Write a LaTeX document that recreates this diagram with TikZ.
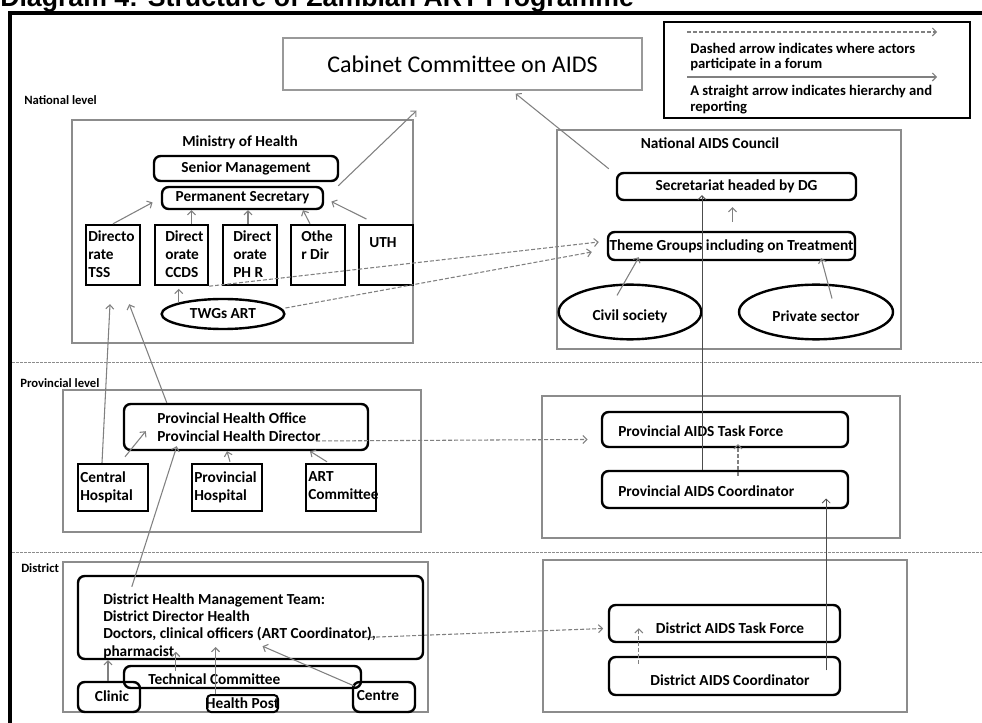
\documentclass[tikz,border=0pt]{standalone}
\usepackage{fontspec}
\setmainfont{Carlito}
\newfontfamily\titlefont{Liberation Sans}
\usetikzlibrary{fit,calc,arrows.meta,shapes.geometric}
\begin{document}
\begin{tikzpicture}[x=0.75pt,y=-0.75pt,
  rbox/.style={draw, line width=1.8pt, rounded corners=5pt, inner sep=0pt},
  sbox/.style={draw, line width=1.8pt, inner sep=0pt},
  gbox/.style={draw=black!45, line width=0.8pt, inner sep=0pt},
  ellbox/.style={draw, ellipse, line width=1.8pt, inner sep=0pt},
  lbl/.style={font=\bfseries\fontsize{11.5}{13.5}\selectfont, inner sep=0pt},
  small/.style={font=\bfseries\fontsize{9.5}{11}\selectfont, inner sep=0pt},
  harrow/.style={draw=black!50, line width=0.8pt, -{Straight Barb[length=3pt,width=6pt]}},
  darrow/.style={harrow, dash pattern=on 3pt off 1.5pt},
  vline/.style={draw=black!70, line width=0.6pt, -{Straight Barb[length=3pt,width=6pt]}},
  sep/.style={draw=black!45, line width=0.7pt, dash pattern=on 2pt off 1pt},
]
\useasboundingbox (0,0) rectangle (982,723);

% title (cut off at the top, as in the scan) and frame
\node[anchor=base west, font=\titlefont\bfseries\fontsize{20}{22}\selectfont, inner sep=0pt] (title) at (0,7) {Diagram 4: Structure of Zambian ART Programme};
\draw[line width=3pt] (10,740) -- (10,13) -- (995,13);

% Cabinet
\node[gbox, draw=black!40, line width=1pt, fit={(283,38) (642,90)}] (cab) {};
\node[font=\fontsize{18}{20}\selectfont, inner sep=0pt] (cab-t) at (cab) {Cabinet Committee on AIDS};

% Legend
\node[draw, line width=1.4pt, inner sep=0pt, fit={(664,22) (970,118)}] (leg) {};
\coordinate (lda) at (687,32); \coordinate (ldb) at (937,32);
\coordinate (lsa) at (687,77); \coordinate (lsb) at (937,77);
\draw[darrow] (lda) -- (ldb);
\draw[harrow] (lsa) -- (lsb);
\node[lbl, anchor=west, font=\bfseries\fontsize{11}{13}\selectfont] (leg1) at (690,48) {Dashed arrow indicates where actors};
\node[lbl, anchor=west, font=\bfseries\fontsize{11}{13}\selectfont] (leg2) at (690,65) {participate in a forum};
\node[lbl, anchor=west, font=\bfseries\fontsize{11}{13}\selectfont] (leg3) at (690,92) {A straight arrow indicates hierarchy and};
\node[lbl, anchor=west, font=\bfseries\fontsize{11}{13}\selectfont] (leg4) at (690,108) {reporting};

% National level
\node[small, anchor=west] (natl) at (24,100) {National level};
\node[gbox, fit={(72,120) (413,343)}] (moh) {};
\node[lbl] (moh-t) at (240,142) {Ministry of Health};
\node[rbox, fit={(154,156) (338,181)}] (sm) {};
\node[lbl] (sm-t) at (sm) {Senior Management};
\node[rbox, fit={(162,187) (323,209)}] (ps) {};
\node[lbl] (ps-t) at (ps) {Permanent Secretary};
\node[sbox, fit={(86,225) (140,285)}] (tss) {};
\node[sbox, fit={(155,225) (208,285)}] (ccds) {};
\node[sbox, fit={(223,225) (277,285)}] (phr) {};
\node[sbox, fit={(291,225) (345,285)}] (oth) {};
\node[sbox, fit={(359,225) (413,285)}] (uth) {};
\node[lbl, anchor=north west, align=left] (tss-t) at (88,230) {Directo\\rate\\TSS};
\node[lbl, anchor=north west, align=left] (ccds-t) at (165,230) {Direct\\orate\\CCDS};
\node[lbl, anchor=north west, align=left] (phr-t) at (233,230) {Direct\\orate\\PH R};
\node[lbl, anchor=north west, align=left] (oth-t) at (301,230) {Othe\\r Dir};
\node[lbl, anchor=north west, align=left] (uth-t) at (369,237) {UTH};
\node[ellbox, minimum width=92pt, minimum height=22.5pt] (twg) at (223,314) {};
\node[lbl] (twg-t) at (twg) {TWGs ART};

\coordinate (c1) at ($(ccds.north)+(10,0)$);
\coordinate (c2) at ($(phr.north)+(-2,0)$);
\coordinate (c3) at ($(oth.north)+(-8,0)$);
\coordinate (c3b) at ($(oth.north)+(-15,0)$);
\draw[harrow, shorten >=7pt] (tss.north) -- (ps.west);
\draw[harrow] (c1) -- (c1 |- ps.south);
\draw[harrow] (c2) -- (c2 |- ps.south);
\draw[harrow] (c3) -- (c3b |- ps.south);
\draw[harrow, shorten <=8pt, shorten >=6pt] ($(uth.north)+(-10,0)$) -- (ps.east);
\draw[harrow] ($(ps.north east)+(14,0)$) -- ($(cab.south)+(-46,20)$);
\draw[harrow, shorten >=2pt] (twg.north west) -- (twg.north west |- ccds.south);

% National AIDS Council
\node[gbox, fit={(557,130) (901,349)}] (nac) {};
\node[lbl] (nac-t) at (710,143) {National AIDS Council};
\node[rbox, fit={(617,173) (856,200)}] (sec) {};
\node[lbl] (sec-t) at (sec) {Secretariat headed by DG};
\node[rbox, fit={(608,232) (855,260)}] (thm) {};
\node[lbl] (thm-t) at (thm) {Theme Groups including on Treatment};
\node[ellbox, minimum width=107pt, minimum height=41pt] (civ) at (630,312) {};
\node[lbl] (civ-t) at (630,316) {Civil society};
\node[ellbox, minimum width=115.5pt, minimum height=41pt] (pri) at (816,312) {};
\node[lbl] (pri-t) at (816,316) {Private sector};

\draw[harrow] ($(thm.north)+(1,-9)$) -- ($(sec.south)+(-4,6)$);
\draw[harrow] ($(civ.north)+(-13,12)$) -- ($(thm.south west)+(32,-4)$);
\draw[harrow] ($(pri.north)+(16,15)$) -- ($(thm.south east)+(-35,-3)$);
\draw[harrow] ($(sec.north west)+(-7,-3)$) -- ($(cab.south east)+(-127,3)$);

\draw[darrow] (ccds.south east) -- ($(thm.west)+(-8,-4)$);
\draw[darrow] ($(twg.east)+(0,-6)$) -- ($(thm.west)+(-15,6)$);

% separators
\coordinate (s1a) at (12,362); \coordinate (s1b) at (982,362);
\coordinate (s2a) at (12,552); \coordinate (s2b) at (982,552);
\draw[sep] (s1a) -- (s1b);
\draw[sep] (s2a) -- (s2b);

% Provincial level
\node[small, anchor=west] (prov) at (20,383) {Provincial level};
\node[gbox, fit={(63,390) (421,532)}] (pbox) {};
\node[rbox, fit={(124,404) (368,450)}] (pho) {};
\node[lbl, anchor=north west, align=left] (pho-t) at (157,412) {Provincial Health Office\\Provincial Health Director};
\node[sbox, fit={(78,464) (148,511)}] (ch) {};
\node[sbox, fit={(192,464) (262,511)}] (ph) {};
\node[sbox, fit={(306,464) (376,511)}] (artc) {};
\node[lbl, anchor=north west, align=left] (ch-t) at (80,471) {Central\\Hospital};
\node[lbl, anchor=north west, align=left] (ph-t) at (194,471) {Provincial\\Hospital};
\node[lbl, anchor=north west, align=left] (artc-t) at (308,471) {ART\\Committee};

\coordinate (c4) at ($(ph.north)+(0,0)$);
\coordinate (c5) at ($(artc.north)+(-31,0)$);
\draw[harrow] ($(ch.north)+(12,-6)$) -- ($(pho.south west)+(23,-20)$);
\draw[harrow] ($(c4)+(3,-1)$) -- (c4 |- pho.south);
\draw[harrow] ($(artc.north)+(-14,-1)$) -- (c5 |- pho.south);
\draw[harrow] ($(ch.north)+(-11,0)$) -- ($(tss.south)+(-3,18)$);
\draw[harrow] ($(pho.north west)+(44,0)$) -- ($(tss.south east)+(-12,18)$);
\draw[darrow] ($(pho.east)+(-53,14)$) -- ($(pbox.north east)+(166,50)$);

% Provincial AIDS
\node[gbox, fit={(542,396) (900,538)}] (pabox) {};
\node[rbox, fit={(602,412) (848,447)}] (patf) {};
\node[lbl, anchor=west] (patf-t) at (618,431) {Provincial AIDS Task Force};
\node[rbox, fit={(602,471) (848,508)}] (pac) {};
\node[lbl, anchor=west] (pac-t) at (618,491) {Provincial AIDS Coordinator};
\coordinate (c6) at ($(pac.north)+(-23,0)$);
\draw[darrow] ($(pac.north)+(13,6)$) -- ($(patf.south)+(13,-4)$);
\draw[vline, shorten >=-4.5pt] (c6) -- (c6 |- sec.south);

% District
\node[small, anchor=west] (dist) at (21,568) {District};
\node[gbox, fill=white, fit={(63,562) (428,712)}] (dbox) {};
\node[rbox, fit={(78,576) (423,659)}] (dhmt) {};
\node[lbl, anchor=north west, align=left, font=\bfseries\fontsize{11.5}{13}\selectfont] (dhmt-t) at (103,593) {District Health Management Team:\\District Director Health\\Doctors, clinical officers (ART Coordinator),\\pharmacist};
\node[rbox, fit={(124,666) (361,688)}] (tech) {};
\node[lbl, anchor=west] (tech-t) at (148,679) {Technical Committee};
\node[rbox, fit={(78,682) (140,712)}] (cli) {};
\node[lbl] (cli-t) at (112,696) {Clinic};
\node[rbox, rounded corners=3pt, line width=1.5pt, fit={(207,695) (278,712)}] (hp) {};
\node[lbl] (hp-t) at (hp) {Health Post};
\node[rbox, fit={(353,682) (415,712)}] (cen) {};
\node[lbl] (cen-t) at (378,696) {Centre};

\coordinate (c7) at ($(cli.north)+(-1,0)$);
\draw[harrow] (c7) -- (c7 |- dhmt.south);
\draw[harrow] ($(tech.north west)+(53,6)$) -- ($(tech.north west)+(53,-13)$);
\draw[harrow] ($(hp.north)+(-27,0)$) -- ($(hp.north)+(-27,-47)$);
\draw[harrow] ($(cen.north west)+(2,5)$) -- ($(dhmt.south)+(12,-14)$);
\draw[harrow] ($(dhmt.north west)+(55,12)$) -- ($(pho.south west)+(54,-5)$);
\draw[darrow] ($(dhmt.east)+(-60,20)$) -- ($(dhmt.east)+(179,11)$);

% District AIDS
\node[gbox, fit={(543,560) (907,712)}] (dabox) {};
\node[rbox, fit={(609,605) (840,642)}] (datf) {};
\node[lbl] (datf-t) at (730,628) {District AIDS Task Force};
\node[rbox, fit={(609,657) (840,695)}] (dac) {};
\node[lbl] (dac-t) at (730,680) {District AIDS Coordinator};
\coordinate (c8) at ($(dac.north east)+(-15,0)$);
\draw[darrow] ($(dac.north west)+(31,8)$) -- ($(datf.south west)+(31,-15)$);
\draw[vline, shorten <=-11pt, shorten >=-8pt] (c8) -- (c8 |- pac.south);
\end{tikzpicture}
\end{document}
